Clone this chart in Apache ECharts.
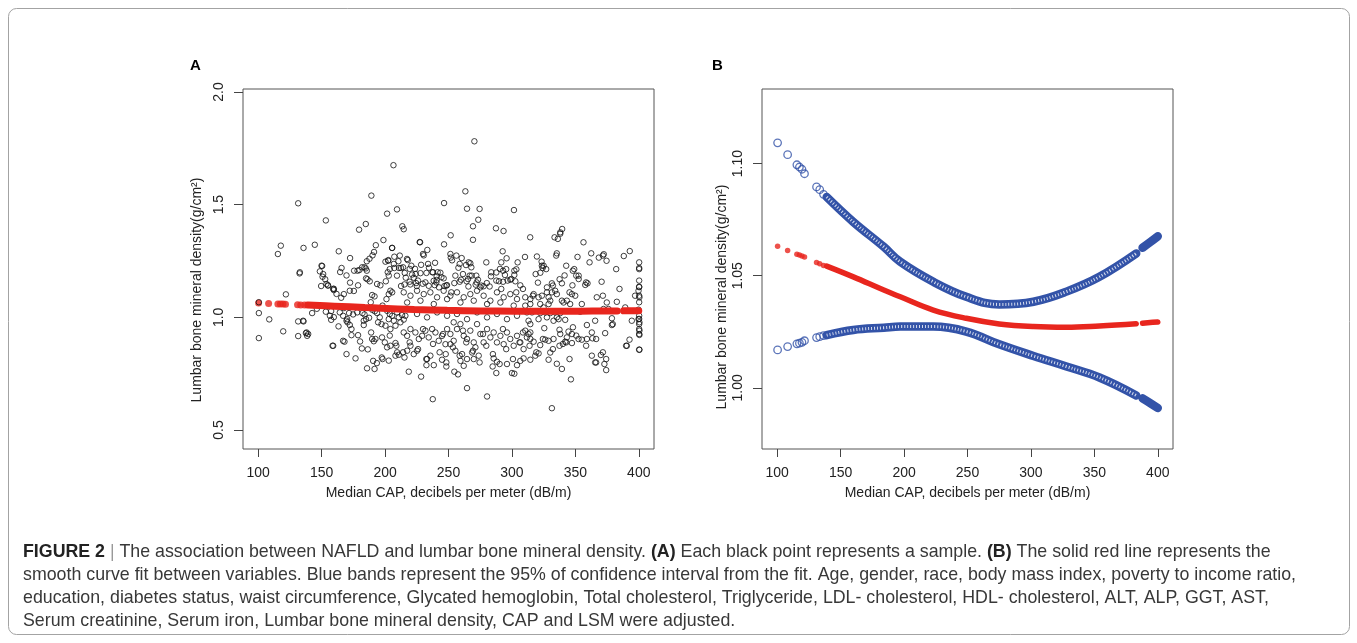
<!DOCTYPE html>
<html>
<head>
<meta charset="utf-8">
<title>Figure 2</title>
<script src="https://cdn.jsdelivr.net/npm/echarts@6/dist/echarts.min.js"></script>
<style>
  html, body { margin: 0; padding: 0; background: #fff; }
  #chart { width: 1357px; height: 643px; }
</style>
</head>
<body>
<div id="chart"></div>
<script>
// tick labels
const xTicks = [100, 150, 200, 250, 300, 350, 400]
const yTicksA = [0.5, 1.0, 1.5, 2.0]
const yTicksB = [1.00, 1.05, 1.10]

// panel A: every sample [median CAP, lumbar BMD]
const samplePoints = [
  [117.8,1.318],[115.5,1.281],[135.7,1.308],[144.6,1.322],[131.5,1.506],[153.3,1.43],[179.5,1.389],[184.8,1.414],
  [189.2,1.54],[192.7,1.32],[198.7,1.343],[201.6,1.46],[206.6,1.675],[209.4,1.479],[213.6,1.404],[214.7,1.391],
  [205.5,1.308],[227.6,1.333],[233.3,1.299],[246.5,1.507],[246.5,1.324],[251.7,1.364],[263.3,1.559],[264.6,1.482],
  [270.4,1.781],[269.3,1.404],[273.5,1.433],[274.5,1.481],[269.3,1.344],[287.4,1.395],[293.4,1.383],[301.6,1.476],
  [314.4,1.355],[333.6,1.355],[336.2,1.348],[338.1,1.377],[339.6,1.392],[356.4,1.333],
  [132.6,1.195],[163.5,1.293],[172.4,1.263],[191.3,1.29],[190.1,1.275],[187.7,1.26],[185.6,1.249],[150.4,1.228],
  [148.6,1.204],[165.7,1.219],[164.6,1.201],[169.6,1.186],[175.6,1.207],[178.3,1.207],[179.8,1.21],[181.9,1.222],
  [183.8,1.222],[185.6,1.207],[184.8,1.217],[150.7,1.18],[152.8,1.169],[149.6,1.139],[154.9,1.142],[159.6,1.127],
  [172.4,1.154],[178.7,1.142],[185,1.173],[187.9,1.16],[186.1,1.169],[193.7,1.148],[196.3,1.142],
  [227.3,1.334],[205.6,1.308],[230.5,1.275],[292.7,1.293],[295.8,1.262],[304.5,1.244],[291.6,1.244],[251.5,1.281],
  [251.8,1.265],[252.8,1.253],[260.4,1.263],[265.9,1.244],[263.8,1.232],[267.2,1.24],[257.8,1.22],[239.4,1.242],
  [228.4,1.233],[234.6,1.22],[207.3,1.269],[202.6,1.254],[200.3,1.247],[210.5,1.249],[217.9,1.254],[207.3,1.219],
  [211,1.219],[212.6,1.219],[219.4,1.215],[223.6,1.215],[202.1,1.2],[202.9,1.185],[209.4,1.185],[215.5,1.197],
  [216.3,1.176],[221.3,1.19],[222.6,1.176],[227.9,1.196],[232.6,1.197],[237.3,1.2],[241.5,1.2],[243.6,1.198],
  [240.7,1.182],[240.7,1.166],[246.2,1.173],[255.4,1.185],[259.8,1.167],[258.8,1.158],[266.7,1.185],[268.3,1.185],
  [273.2,1.167],[272.2,1.155],[271.4,1.145],[231.8,1.155],[234.4,1.14],[229.7,1.149],[238.3,1.162],[239.1,1.143],
  [224.4,1.152],[225,1.139],[219.4,1.158],[219.9,1.146],[212.6,1.139],[215.3,1.146],[200.6,1.16],[254.6,1.152],
  [242.5,1.133],[246.8,1.139],[248.8,1.143],[264.3,1.16],[265.7,1.137],[280.2,1.152],[282.4,1.137],[283.5,1.182],
  [287.7,1.199],[290.6,1.215],[293,1.207],[294.5,1.188],[289.8,1.16],[293,1.158],[296.6,1.163],[298.7,1.167],
  [301.9,1.207],[303.5,1.213],[301.9,1.188],[302.7,1.16],[306.6,1.142],[275.1,1.133],[277.7,1.138],
  [338.1,1.371],[310.3,1.268],[319.7,1.27],[323.4,1.247],[323.6,1.229],[324.2,1.219],[325,1.229],[335.4,1.284],
  [351.7,1.268],[362.5,1.284],[368.5,1.265],[372.4,1.28],[374.6,1.251],[388.2,1.272],[392.9,1.294],[400.3,1.244],
  [400.3,1.219],[318.7,1.192],[322.4,1.198],[320.5,1.154],[327.6,1.133],[331.5,1.151],[337.6,1.169],[339.4,1.151],
  [341.5,1.186],[348,1.207],[349.1,1.214],[352.6,1.185],[352.6,1.17],[347.7,1.142],[357.8,1.144],[359.6,1.151],
  [370.7,1.158],[400.3,1.163],[400.3,1.136],[400.3,1.134],
  [100.5,1.067],[100.5,1.019],[100.5,0.908],[108.7,0.991],[121.8,1.102],[119.7,0.938],[131.5,0.982],[135.7,0.982],
  [131.5,0.917],[137.6,0.93],[138.6,0.918],[142.5,1.019],[146.2,1.038],[153.3,1.025],[157.5,1.028],[156.5,1.007],
  [157.5,0.989],[159.6,1.001],[159.6,1.121],[165.4,1.087],[167.5,1.103],[172.2,1.118],[175.4,1.117],[167.5,1.041],
  [163.3,0.96],[158.6,0.874],[166.9,0.896],[168,0.892],[169.6,0.837],[170.1,0.992],[170.4,0.978],[172.2,0.966],
  [173.5,0.948],[173.5,0.921],[171.6,1.019],[174.8,1.013],[178,1.022],[176.7,0.818],[178.7,0.921],[180.3,0.893],
  [181.7,0.862],[182.2,1.019],[183.8,1.013],[183.2,0.985],[185,0.992],[187.4,0.998],[183.2,0.966],[186.4,0.858],
  [185.8,0.774],[189,0.933],[189.8,0.904],[191.1,0.894],[192.4,0.904],[190.6,0.807],[193.5,0.797],[191.7,0.771],
  [188.7,1.067],[189.8,1.034],[191.9,1.027],[193.7,1.019],[191.7,1.093],[189.8,1.099],[194.5,0.978],[195.8,1.0],
  [197.2,0.97],[197.4,0.822],[198,0.815],[197.6,0.911],[198,1.052],
  [132.8,1.2],[135.4,0.985],[138.1,0.933],[139.4,0.926],[149.9,1.229],[151.2,1.192],[153.8,1.148],[155.1,1.141],
  [159.1,1.126],[161.7,1.104],[164.3,1.022],[166.9,1.007],[169.6,0.985],[159.1,0.874],
  [201.1,1.081],[202.9,1.103],[204.2,1.118],[205.6,1.111],[201.6,1.029],[203.7,1.015],[205.6,1.007],[202.9,0.992],
  [206.9,0.985],[200.3,0.963],[204.2,0.948],[208.2,0.963],[209.5,1.022],[210.8,1.0],[213.4,1.01],[214.7,0.99],
  [212.1,0.978],[199.8,0.889],[201.6,0.867],[204.2,0.874],[208.2,0.886],[209.5,0.845],[202.9,0.808],[208.2,0.83],
  [210.8,0.834],[215.3,0.822],[217.4,0.852],[220,0.874],[222.6,0.837],[225.2,0.852],[218.7,0.759],[228.4,0.737],
  [232.6,0.788],[233.1,0.815],[238.4,0.788],[235.7,0.83],[237.6,0.637],[244.9,0.812],[248.3,0.782],[247.8,0.837],
  [251.5,0.881],[255.4,0.852],[254.1,0.896],[254.6,0.759],[257.5,0.747],[259.4,0.807],[260.7,0.837],[262,0.785],
  [264.6,0.815],[264.6,0.686],[268.6,0.844],[271.2,0.867],[273.8,0.83],[269.9,0.815],[280.4,0.649],[284.8,0.782],
  [285.6,0.818],[288.2,0.803],[287.7,0.753],[296.1,0.793],[300,0.753],[301.9,0.75],[304,0.788],[306.6,0.807],
  [214.7,0.933],[217.4,0.918],[220,0.948],[223.9,0.933],[226.6,0.904],[229.2,0.918],[231.8,0.941],[234.4,0.911],
  [237.1,0.948],[239.7,0.933],[242.3,0.896],[244.9,0.918],[247.6,0.881],[248.9,0.948],[251.5,0.926],[254.1,0.978],
  [256.7,0.948],[259.4,0.97],[262,0.918],[264.6,0.904],[267.2,0.941],[269.9,0.889],[272.5,0.97],[275.1,0.926],
  [277.7,0.889],[280.4,0.948],[283,0.911],[285.6,0.933],[288.2,0.889],[290.9,0.918],[293.5,0.881],[296.1,0.933],
  [298.7,0.904],[301.4,0.874],[304,0.918],[306.6,0.889],
  [214.7,1.111],[220,1.096],[225.2,1.118],[230.5,1.103],[235.7,1.111],[241,1.089],[246.2,1.118],[251.5,1.096],
  [256.7,1.111],[262,1.089],[267.2,1.103],[272.5,1.118],[277.7,1.096],[283,1.074],[288.2,1.111],[293.5,1.089],
  [298.7,1.103],[304,1.081],[217.4,1.066],[227.9,1.074],[238.4,1.059],[248.9,1.081],[259.4,1.066],[269.9,1.074],
  [280.4,1.059],[290.9,1.066],[301.4,1.052],[216,1.007],[225.2,1.015],[233.1,1.0],[241,1.022],[248.9,1.007],
  [256.7,1.015],[264.6,0.992],[272.5,1.022],[280.4,1.0],[288.2,1.015],[296.1,0.992],[304,1.007],
  [310.5,1.089],[314.5,1.081],[317.1,1.103],[321,1.089],[323.6,1.096],[327.6,1.111],[328.9,1.089],[331.5,1.111],
  [334.1,1.118],[335.4,1.103],[339.4,1.074],[340.7,1.066],[343.3,1.074],[345.9,1.059],[347.3,1.103],[349.9,1.096],
  [355.1,1.059],[366.9,1.089],[374.8,1.066],[382.7,1.069],[389.3,1.044],[397.1,1.096],[399.8,1.118],[400.5,1.089],
  [310.5,1.052],[314.5,1.059],[322.3,1.059],[324.9,1.044],[328.9,1.059],[330.2,1.074],
  [311.8,1.022],[315.8,1.022],[322.3,1.019],[326.3,1.022],[330.2,1.019],[334.1,1.022],[338.1,1.019],[353.8,1.025],
  [372.2,1.037],[376.1,1.037],[399.8,1.034],
  [313.1,0.985],[314.5,0.97],[321,0.992],[327.6,1.0],[332.8,0.985],[335.4,1.0],[336.8,0.992],[342,0.989],
  [365.6,0.985],[378.8,0.996],[379.5,0.97],[394.5,0.985],[399.8,0.992],[400.5,0.978],
  [310.5,0.941],[313.1,0.926],[314.5,0.933],[325.5,0.952],[337.5,0.945],[338.1,0.926],[344.6,0.937],[348.1,0.956],
  [347.3,0.926],[359.1,0.966],[363,0.933],[373.5,0.93],[378.8,0.966],[400.5,0.941],[400.5,0.922],
  [311.8,0.911],[314.5,0.904],[317.1,0.892],[326.3,0.901],[328.9,0.896],[332.8,0.904],[342,0.892],[343.3,0.911],
  [347.3,0.886],[352.5,0.904],[355.1,0.901],[359.1,0.904],[363.5,0.907],[392.7,0.901],[390.6,0.874],[400.5,0.856],
  [309.2,0.859],[322.3,0.877],[337.5,0.874],[342.8,0.889],
  [309.2,0.818],[314.5,0.812],[318.4,0.83],[321,0.84],[328.9,0.812],[330.2,0.844],[335.4,0.794],[339.4,0.771],
  [363,0.83],[365.6,0.8],[370.1,0.833],[374.3,0.815],[374.3,0.766],[346.5,0.725],[331.5,0.597],
  [202.4,1.251],[203.7,1.214],[206.9,1.237],[211.6,1.274],[214.2,1.222],[217.3,1.259],[220.7,1.229],[224.1,1.192],
  [225.9,1.163],[229.9,1.281],[233.9,1.237],[237.8,1.2],[240.4,1.155],[244.4,1.178],[248.3,1.141],[252.2,1.111],
  [256.2,1.274],[258.8,1.237],[261.4,1.192],[265.4,1.17],[268,1.222],[271.9,1.185],[275.9,1.141],[279.8,1.244],
  [283.7,1.2],[287.7,1.163],[291.6,1.126],[295.5,1.214],[299.5,1.17],[303.4,1.111],
  [203.7,0.919],[208.9,0.874],[214.2,0.845],[219.4,0.889],[226,0.859],[232.5,0.815],[237.8,0.882],[243,0.845],
  [248.3,0.8],[253.5,0.867],[258.8,0.83],[264,0.889],[269.3,0.852],[274.5,0.8],[279.8,0.874],[285,0.837],
  [290.3,0.793],[295.5,0.859],[300.8,0.815],[306,0.889],[229.9,0.948],[245.7,0.926],[261.4,0.941],[277.2,0.926],
  [292.9,0.948],[308.7,0.933],
  [313.9,0.874],[319.2,0.845],[324.4,0.904],[332.3,0.859],[340.2,0.882],[345.4,0.815],[350.7,0.919],[358.5,0.874],
  [366.4,0.904],[371.7,0.845],[327,1.214],[334.9,1.274],[342.8,1.229],[350.7,1.185],[361.2,1.244],[371.7,1.274],
  [382.2,1.214],[308.7,1.126],[316.5,1.096],[332.3,1.141],[345.4,1.111],[358.5,1.155],[371.7,1.096],[384.8,1.126],
  [366.4,0.8],[372.9,0.793],[390,0.874],[400.3,0.857],[400.3,0.926],[400.3,0.948],[400.3,0.97],[400.3,0.993],
  [400.3,1.214],[400.3,1.096],[400.3,1.067],[400.3,1.007]
]

// smooth fit and its 95% band: isolated fitted points at the low end
const sparseX = [100.3, 108.2, 115.5, 117.5, 119.5, 121.5, 131, 133.5, 136.5]
const sparseFit = [1.0632, 1.0612, 1.0596, 1.0592, 1.0588, 1.0584, 1.0559, 1.0553, 1.0546]
const sparseUpper = [1.1093, 1.104, 1.0995, 1.0985, 1.0975, 1.0955, 1.0896, 1.0884, 1.0863]
const sparseLower = [1.0169, 1.0184, 1.0196, 1.0199, 1.0203, 1.021, 1.0224, 1.0228, 1.0233]

// dense run of fitted points
const curveX = [139, 160, 184, 197, 223, 249, 275, 302, 328, 354, 383]
const curveFit = [1.0543, 1.0495, 1.0436, 1.0406, 1.0347, 1.031, 1.0285, 1.0273, 1.027, 1.0276, 1.0286]
const curveUpper = [1.0851, 1.074, 1.0629, 1.0562, 1.0473, 1.0406, 1.0372, 1.0384, 1.0429, 1.0495, 1.0599]
const curveLower = [1.0235, 1.0258, 1.0268, 1.0273, 1.0273, 1.0251, 1.0194, 1.0142, 1.0095, 1.0046, 0.9966]

// short run after the gap near 385
const tailX = [388, 394, 400]
const tailFit = [1.0288, 1.0291, 1.0294]
const tailUpper = [1.0625, 1.065, 1.0676]
const tailLower = [0.9953, 0.9932, 0.991]

const zip = (xs, ys) => xs.map((x, i) => [x, ys[i]])

const RED = '#e8261e'
const BLUE = '#3353a8'
const INK = '#222'
const FONT = '"Liberation Sans", Arial, sans-serif'

const chart = echarts.init(document.getElementById('chart'), null, { renderer: 'canvas' })

const xAxisFor = (grid) => ({
  gridIndex: grid,
  type: 'value',
  min: 88,
  max: 412,
  axisLine: { show: false },
  splitLine: { show: false },
  axisTick: { customValues: xTicks, length: 8, lineStyle: { color: '#444' } },
  axisLabel: { customValues: xTicks, margin: 17, fontSize: 14, color: INK, fontFamily: FONT },
  name: 'Median CAP, decibels per meter (dB/m)',
  nameLocation: 'middle',
  nameGap: 37,
  nameTextStyle: { fontSize: 14, color: INK, fontFamily: FONT }
})

const yAxisFor = (grid, min, max, ticks, digits) => ({
  gridIndex: grid,
  type: 'value',
  min: min,
  max: max,
  axisLine: { show: false },
  splitLine: { show: false },
  axisTick: { customValues: ticks, length: 9, lineStyle: { color: '#444' } },
  axisLabel: {
    customValues: ticks,
    rotate: 90,
    margin: 17,
    fontSize: 14,
    color: INK,
    fontFamily: FONT,
    formatter: v => Number(v).toFixed(digits)
  }
})

const fitLine = (xi, yi, data, color, width) => ({
  type: 'line',
  xAxisIndex: xi,
  yAxisIndex: yi,
  data: data,
  smooth: 0.4,
  showSymbol: false,
  silent: true,
  lineStyle: { color: color, width: width, cap: 'round' }
})

const option = {
  animation: false,
  backgroundColor: '#fff',
  grid: [
    { left: 243, top: 89, width: 411, height: 360, show: true, borderColor: '#555', borderWidth: 1 },
    { left: 762, top: 89, width: 411, height: 360, show: true, borderColor: '#555', borderWidth: 1 }
  ],
  xAxis: [xAxisFor(0), xAxisFor(1)],
  yAxis: [
    yAxisFor(0, 0.416, 2.013, yTicksA, 1),
    yAxisFor(1, 0.9727, 1.1333, yTicksB, 2)
  ],
  series: [
    // panel A: fitted values under the samples
    fitLine(0, 0, zip(curveX, curveFit), RED, 7),
    fitLine(0, 0, zip(tailX, tailFit), RED, 7),
    {
      type: 'scatter', xAxisIndex: 0, yAxisIndex: 0, silent: true,
      data: zip(sparseX, sparseFit), symbolSize: 7, itemStyle: { color: RED }
    },
    {
      type: 'scatter', xAxisIndex: 0, yAxisIndex: 0, silent: true,
      data: samplePoints, symbol: 'circle', symbolSize: 5.5,
      itemStyle: { color: 'rgba(0,0,0,0)', borderColor: '#111', borderWidth: 1 }
    },

    // panel B: confidence band drawn as runs of open circles
    fitLine(1, 1, zip(curveX, curveUpper), BLUE, 8.5),
    fitLine(1, 1, zip(curveX, curveLower), BLUE, 8.5),
    fitLine(1, 1, zip(tailX, tailUpper), BLUE, 8.5),
    fitLine(1, 1, zip(tailX, tailLower), BLUE, 8.5),
    ...[curveUpper, curveLower].map(ys => ({
      type: 'line', xAxisIndex: 1, yAxisIndex: 1, data: zip(curveX, ys), smooth: 0.4,
      showSymbol: false, silent: true,
      lineStyle: { color: '#fff', width: 3, type: [1, 2], opacity: 0.8 }
    })),
    ...[sparseUpper, sparseLower].map(ys => ({
      type: 'scatter', xAxisIndex: 1, yAxisIndex: 1, silent: true,
      data: zip(sparseX, ys), symbol: 'circle', symbolSize: 7.5,
      itemStyle: { color: 'rgba(0,0,0,0)', borderColor: BLUE, borderWidth: 1.3 }
    })),
    fitLine(1, 1, zip(curveX, curveFit), RED, 5.5),
    fitLine(1, 1, zip(tailX, tailFit), RED, 5.5),
    {
      type: 'scatter', xAxisIndex: 1, yAxisIndex: 1, silent: true,
      data: zip(sparseX, sparseFit), symbolSize: 5.5, itemStyle: { color: RED }
    }
  ],
  graphic: [
    {
      type: 'rect', silent: true,
      shape: { x: 8.5, y: 8.5, width: 1341, height: 626, r: 8 },
      style: { fill: 'none', stroke: '#a3a3a3', lineWidth: 1 }
    },
    {
      type: 'text', silent: true, x: 190, y: 66,
      style: { text: 'A', fontSize: 15, fontWeight: 'bold', fontFamily: FONT, fill: '#000', verticalAlign: 'middle' }
    },
    {
      type: 'text', silent: true, x: 712, y: 66,
      style: { text: 'B', fontSize: 15, fontWeight: 'bold', fontFamily: FONT, fill: '#000', verticalAlign: 'middle' }
    },
    {
      type: 'text', silent: true, x: 197, y: 290, rotation: Math.PI / 2,
      style: {
        text: 'Lumbar bone mineral density(g/cm²)', fontSize: 14, fontFamily: FONT, fill: INK,
        align: 'center', verticalAlign: 'middle'
      }
    },
    {
      type: 'text', silent: true, x: 722.5, y: 297, rotation: Math.PI / 2,
      style: {
        text: 'Lumbar bone mineral density(g/cm²)', fontSize: 14, fontFamily: FONT, fill: INK,
        align: 'center', verticalAlign: 'middle'
      }
    },
    {
      type: 'text', silent: true, x: 23, y: 541,
      style: {
        text: '{b|FIGURE 2} {s||} The association between NAFLD and lumbar bone mineral density. {b|(A)} Each black point represents a sample. {b|(B)} The solid red line represents the\n' +
          'smooth curve fit between variables. Blue bands represent the 95% of confidence interval from the fit. Age, gender, race, body mass index, poverty to income ratio,\n' +
          'education, diabetes status, waist circumference, Glycated hemoglobin, Total cholesterol, Triglyceride, LDL- cholesterol, HDL- cholesterol, ALT, ALP, GGT, AST,\n' +
          'Serum creatinine, Serum iron, Lumbar bone mineral density, CAP and LSM were adjusted.',
        fontSize: 17.8, fontFamily: FONT, fill: '#383838', lineHeight: 23, verticalAlign: 'top',
        rich: {
          b: { fontSize: 17.8, fontFamily: FONT, fontWeight: 'bold', fill: '#222', lineHeight: 23 },
          s: { fontSize: 17.8, fontFamily: FONT, fill: '#999', lineHeight: 23 }
        }
      }
    }
  ]
}

chart.setOption(option)
</script>
</body>
</html>
